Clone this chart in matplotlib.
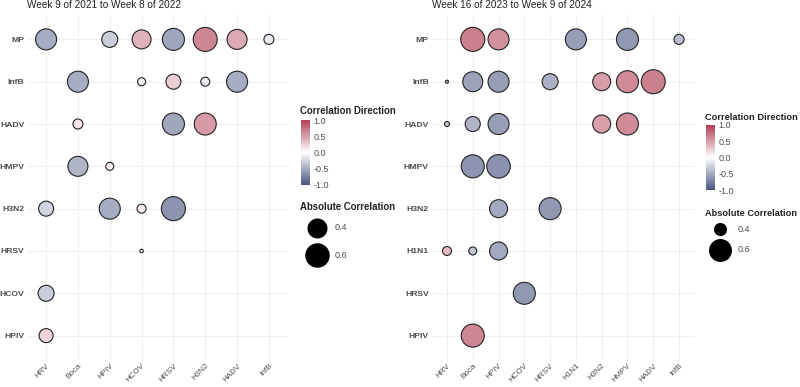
import numpy as np
import matplotlib
matplotlib.use("Agg")
import matplotlib.pyplot as plt
import matplotlib.transforms as mtransforms
from matplotlib.colors import LinearSegmentedColormap, Normalize
from matplotlib.cm import ScalarMappable

plt.rcParams['font.family'] = ['Liberation Sans', 'DejaVu Sans']

# --- dados: painel da esquerda ---
titulo_a = "Week 9 of 2021 to Week 8 of 2022"
x_a = ["HRV", "Boca", "HPIV", "HCOV", "HRSV", "H3N2", "HADV", "InfB"]
y_a = ["MP", "InfB", "HADV", "HMPV", "H3N2", "HRSV", "HCOV", "HPIV"]
col_a = ["HRV", "HPIV", "HCOV", "HRSV", "H3N2", "HADV", "InfB",
         "Boca", "HCOV", "HRSV", "H3N2", "HADV",
         "Boca", "HRSV", "H3N2",
         "Boca", "HPIV",
         "HRV", "HPIV", "HCOV", "HRSV",
         "HCOV",
         "HRV",
         "HRV"]
lin_a = ["MP"] * 7 + ["InfB"] * 5 + ["HADV"] * 3 + ["HMPV"] * 2 + \
        ["H3N2"] * 4 + ["HRSV"] + ["HCOV"] + ["HPIV"]
r_a = [-0.485, -0.29, 0.40, -0.53, 0.626, 0.44, -0.121,
       -0.485, -0.081, 0.256, -0.10, -0.485,
       0.121, -0.53, 0.53,
       -0.44, 0.081,
       -0.256, -0.485, 0.10, -0.626,
       0.02,
       -0.29,
       0.225]

# --- dados: painel da direita ---
titulo_b = "Week 16 of 2023 to Week 9 of 2024"
x_b = ["HRV", "Boca", "HPIV", "HCOV", "HRSV", "H1N1", "H3N2", "HMPV", "HADV", "InfB"]
y_b = ["MP", "InfB", "HADV", "HMPV", "H3N2", "H1N1", "HRSV", "HPIV"]
col_b = ["Boca", "HPIV", "H1N1", "HMPV", "InfB",
         "HRV", "Boca", "HPIV", "HRSV", "H3N2", "HMPV", "HADV",
         "HRV", "Boca", "HPIV", "H3N2", "HMPV",
         "Boca", "HPIV",
         "HPIV", "HRSV",
         "HRV", "Boca", "HPIV",
         "HCOV",
         "Boca"]
lin_b = ["MP"] * 5 + ["InfB"] * 7 + ["HADV"] * 5 + ["HMPV"] * 2 + \
        ["H3N2"] * 2 + ["H1N1"] * 3 + ["HRSV"] + ["HPIV"]
r_b = [0.66, 0.575, -0.575, -0.602, -0.376,
       -0.34, -0.55, -0.575, -0.463, 0.503, 0.602, 0.66,
       -0.343, -0.445, -0.575, 0.503, 0.602,
       -0.63, -0.645,
       -0.503, -0.602,
       0.366, -0.358, -0.503,
       -0.602,
       0.63]

legenda_tam = [0.4, 0.6]

# escala de cor (vermelho = positivo, azul = negativo)
cmap = LinearSegmentedColormap.from_list("dir", ["#4A5680", "#FFFFFF", "#B13F55"])
norm = Normalize(-1, 1)

W, H = 800, 387
fig = plt.figure(figsize=(W / 100, H / 100), dpi=100)
cinza = "#4d4d4d"


def diam_a(v):
    # escala de area: diametro ~ sqrt(|r|)
    return 31.6 * np.sqrt(np.abs(v))


def diam_b(v):
    f = np.clip((np.abs(v) - 0.34) / 0.32, 0, 1)
    return 4 + 21 * np.sqrt(f)


def px2s(d):
    d = np.maximum(np.asarray(d, dtype=float) - 1.0, 1.0)
    return (d * 0.72) ** 2


def painel(rect, titulo, xs, ys, cols, lins, r, diam):
    ax = fig.add_axes(rect)
    n, m = len(xs), len(ys)
    ax.set_xlim(-0.6, n - 0.4)
    ax.set_ylim(m - 0.4, -0.6)
    ax.set_xticks(range(n))
    ax.set_yticks(range(m))
    ax.set_xticklabels(xs, rotation=45, ha="right", va="top",
                       rotation_mode="anchor", fontsize=5.9, color=cinza)
    desloc = mtransforms.ScaledTranslation(5 / 100, 0, fig.dpi_scale_trans)
    for t in ax.get_xticklabels():
        t.set_transform(t.get_transform() + desloc)
    ax.set_yticklabels(ys, fontsize=6.1, fontweight="bold", color=cinza)
    ax.tick_params(length=0, pad=2)
    ax.tick_params(axis="x", pad=1)
    for s in ax.spines.values():
        s.set_visible(False)
    ax.grid(True, color="#ebebeb", linewidth=0.6)
    ax.set_axisbelow(True)
    px = [xs.index(c) for c in cols]
    py = [ys.index(l) for l in lins]
    r = np.array(r)
    ax.scatter(px, py, s=px2s(diam(r)), c=r, cmap=cmap, norm=norm,
               edgecolors="#222222", linewidths=0.8, zorder=3)
    x0 = rect[0] * W
    fig.text(x0 / W, 1 - 8.5 / H, titulo, fontsize=7.2, color="#222222",
             ha="left", va="baseline")
    return ax


top = 14 / H
bot = 361 / H
ax1 = painel([27 / W, 1 - bot, 261 / W, bot - top], titulo_a, x_a, y_a, col_a, lin_a, r_a, diam_a)
ax2 = painel([431.5 / W, 1 - bot, 263 / W, bot - top], titulo_b, x_b, y_b, col_b, lin_b, r_b, diam_b)

# camada de sobreposicao em pixels para as legendas
ov = fig.add_axes([0, 0, 1, 1], zorder=5)
ov.set_xlim(0, W)
ov.set_ylim(H, 0)
ov.axis("off")
ov.patch.set_alpha(0)


def legenda(x0, y_tit, cb_top, cb_bot, y_tit2, ys_circ, x_circ, x_lab, diam, fs):
    ov.text(x0, y_tit, "Correlation Direction", fontsize=fs, fontweight="bold",
            color="#222222", ha="left", va="center")
    cax = fig.add_axes([(x0 + 1) / W, 1 - cb_bot / H, 8.5 / W, (cb_bot - cb_top) / H])
    cb = fig.colorbar(ScalarMappable(norm=norm, cmap=cmap), cax=cax)
    cb.outline.set_visible(False)
    cb.set_ticks([-1, -0.5, 0, 0.5, 1])
    cb.set_ticklabels(["-1.0", "-0.5", "0.0", "0.5", "1.0"])
    cax.tick_params(length=0, pad=3, labelsize=6.5, labelcolor=cinza)
    ov.text(x0, y_tit2, "Absolute Correlation", fontsize=fs, fontweight="bold",
            color="#222222", ha="left", va="center")
    for v, yc in zip(legenda_tam, ys_circ):
        ov.scatter([x_circ], [yc], s=px2s(diam(v) + 1), color="black", linewidths=0)
        ov.text(x_lab, yc, f"{v:.1f}", fontsize=6.5, color=cinza, ha="left", va="center")


legenda(300, 111, 120, 185, 207, [228, 255], 317, 335, diam_a, 6.9)
legenda(705, 117, 125, 190, 213, [229, 250], 720, 738, diam_b, 6.7)

fig.savefig("out.png", dpi=100, facecolor="white")
